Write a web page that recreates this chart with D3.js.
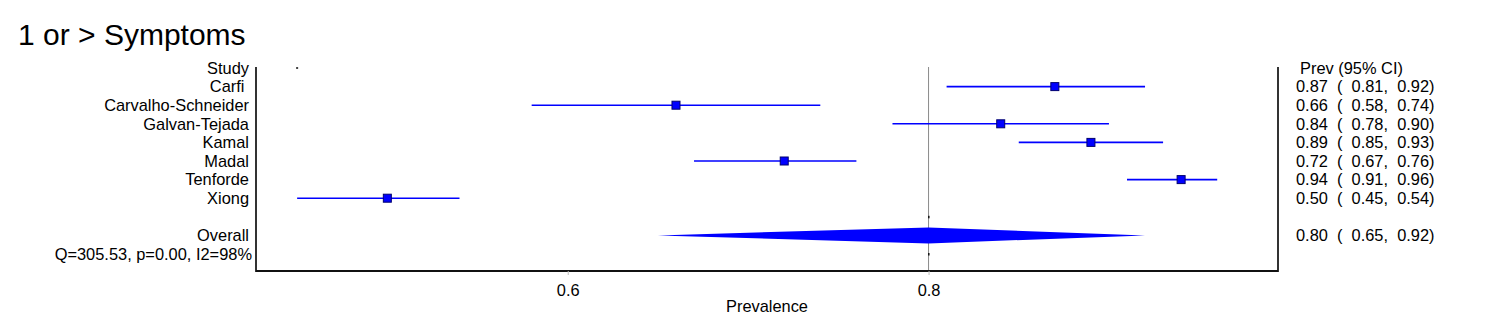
<!DOCTYPE html>
<html>
<head>
<meta charset="utf-8">
<script src="https://cdn.jsdelivr.net/npm/d3@7/dist/d3.min.js"></script>
<style>
  html, body { margin: 0; padding: 0; background: #fff; }
  svg text { font-family: "Liberation Sans", Arial, Helvetica, sans-serif; fill: #000; white-space: pre; }
</style>
</head>
<body>
<svg id="chart" width="1487" height="327"></svg>
<script>
// Study-level prevalence estimates with 95% confidence intervals
const studies  = ["Carfi ", "Carvalho-Schneider", "Galvan-Tejada", "Kamal", "Madal", "Tenforde", "Xiong"];
const prev     = [0.87, 0.66, 0.84, 0.89, 0.72, 0.94, 0.50];
const ciLow    = [0.81, 0.58, 0.78, 0.85, 0.67, 0.91, 0.45];
const ciHigh   = [0.92, 0.74, 0.90, 0.93, 0.76, 0.96, 0.54];

// Pooled estimate
const overallPrev = 0.80;
const overallLow  = 0.65;
const overallHigh = 0.92;
const heterogeneity = "Q=305.53, p=0.00, I2=98%";

const xTicks = [0.6, 0.8];
const title = "1 or > Symptoms";
const xTitle = "Prevalence";
const colHeader = "Prev (95% CI)";

const svg = d3.select("#chart");
const W = 1487, H = 327;
svg.append("rect").attr("width", W).attr("height", H).attr("fill", "#fff");

const plot = { left: 256, right: 1278, top: 67, bottom: 271 };

const x = d3.scaleLinear().domain([0.4272, 0.9937]).range([plot.left, plot.right]);
// row 0 = header, rows 1..7 studies, row 9 overall, row 10 heterogeneity
const y = d3.scaleLinear().domain([0, 10]).range([68, 254]);

const blue = "#0000ff";
const fmt = d3.format(".2f");
const fs = 16.4;

// title
svg.append("text").attr("x", 18).attr("y", 45).attr("font-size", 30).text(title);

// reference line at pooled estimate
svg.append("line")
  .attr("x1", x(overallPrev)).attr("x2", x(overallPrev))
  .attr("y1", plot.top).attr("y2", plot.bottom)
  .attr("stroke", "#8a8a8a").attr("stroke-width", 1);

// frame: left, right and bottom axis lines
svg.append("line").attr("x1", plot.left).attr("x2", plot.left)
  .attr("y1", plot.top).attr("y2", plot.bottom + 1)
  .attr("stroke", "#333").attr("stroke-width", 2);
svg.append("line").attr("x1", plot.right).attr("x2", plot.right)
  .attr("y1", plot.top).attr("y2", plot.bottom + 1)
  .attr("stroke", "#333").attr("stroke-width", 2);

const axis = d3.axisBottom(x).tickValues(xTicks).tickFormat(d3.format(".1f")).tickSize(4).tickPadding(9);
const gAxis = svg.append("g").attr("transform", `translate(0,${plot.bottom})`).call(axis);
gAxis.select(".domain").attr("stroke", "#111").attr("stroke-width", 2)
  .attr("d", `M${plot.left},0H${plot.right}`);
gAxis.selectAll(".tick line").attr("stroke", "#bbb");
gAxis.selectAll(".tick text").attr("font-size", fs)
  .attr("font-family", "'Liberation Sans', Arial, sans-serif").attr("fill", "#000");

svg.append("text").attr("x", (plot.left + plot.right) / 2).attr("y", 312)
  .attr("text-anchor", "middle").attr("font-size", fs).text(xTitle);

// left column labels
const labelX = 249;
svg.append("text").attr("x", labelX).attr("y", y(0)).attr("dy", "0.35em")
  .attr("text-anchor", "end").attr("font-size", fs).text("Study");
svg.selectAll("text.study").data(studies).join("text").attr("class", "study")
  .attr("x", labelX).attr("y", (d, i) => y(i + 1)).attr("dy", "0.35em")
  .attr("text-anchor", "end").attr("font-size", fs).text(d => d);
svg.append("text").attr("x", labelX).attr("y", y(9)).attr("dy", "0.35em")
  .attr("text-anchor", "end").attr("font-size", fs).text("Overall");
svg.append("text").attr("x", 252).attr("y", y(10)).attr("dy", "0.35em")
  .attr("text-anchor", "end").attr("font-size", fs).text(heterogeneity);

// tiny header-row marker
svg.append("rect").attr("x", x(d3.min(ciLow)) - 1).attr("y", y(0) - 1)
  .attr("width", 2).attr("height", 2).attr("fill", "#444");

// confidence interval lines
const rows = studies.map((s, i) => ({ s, p: prev[i], lo: ciLow[i], hi: ciHigh[i], r: i + 1 }));
svg.selectAll("line.ci").data(rows).join("line").attr("class", "ci")
  .attr("x1", d => x(d.lo)).attr("x2", d => x(d.hi))
  .attr("y1", d => y(d.r)).attr("y2", d => y(d.r))
  .attr("stroke", blue).attr("stroke-width", 1.6);

// point estimates
const sq = 8;
svg.selectAll("rect.pt").data(rows).join("rect").attr("class", "pt")
  .attr("x", d => x(d.p) - sq / 2).attr("y", d => y(d.r) - sq / 2)
  .attr("width", sq).attr("height", sq)
  .attr("fill", blue).attr("stroke", "#000070").attr("stroke-width", 1);

// pooled diamond
const yo = y(9), dh = 8;
svg.append("path")
  .attr("d", `M${x(overallLow)},${yo}L${x(overallPrev)},${yo - dh}L${x(overallHigh)},${yo}L${x(overallPrev)},${yo + dh}Z`)
  .attr("fill", blue);
[y(8), y(10)].forEach(yy => {
  svg.append("rect").attr("x", x(overallPrev) - 0.5).attr("y", yy - 1)
    .attr("width", 1.5).attr("height", 2.5).attr("fill", "#111");
});

// right column: estimate and interval text
const colX = 1296;
svg.append("text").attr("x", 1300).attr("y", y(0)).attr("dy", "0.35em")
  .attr("font-size", fs).text(colHeader);
const ciText = (p, lo, hi) => `${fmt(p)}  (  ${fmt(lo)},  ${fmt(hi)})`;
svg.selectAll("text.est").data(rows).join("text").attr("class", "est")
  .attr("x", colX).attr("y", d => y(d.r)).attr("dy", "0.35em")
  .attr("font-size", fs).text(d => ciText(d.p, d.lo, d.hi));
svg.append("text").attr("x", colX).attr("y", y(9)).attr("dy", "0.35em")
  .attr("font-size", fs).text(ciText(overallPrev, overallLow, overallHigh));
</script>
</body>
</html>
